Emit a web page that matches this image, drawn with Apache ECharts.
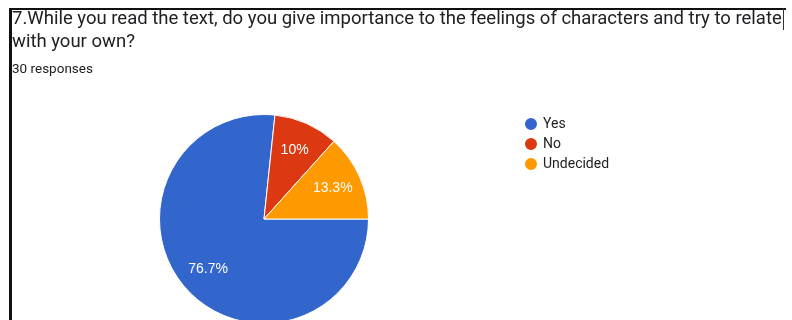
<!DOCTYPE html>
<html>
<head>
<meta charset="utf-8">
<script src="https://cdn.jsdelivr.net/npm/echarts@6/dist/echarts.min.js"></script>
<style>
  html, body { margin: 0; padding: 0; background: #fff; }
  #chart { width: 792px; height: 320px; }
</style>
</head>
<body>
<div id="chart"></div>
<script>
// Survey question 7: answers and their counts (30 responses)
const questionLines = [
  '7.While you read the text, do you give importance to the feelings of characters and try to relate',
  'with your own?'
];
const responseNote = '30 responses';
const answers = ['Yes', 'No', 'Undecided'];
const counts = [23, 3, 4];
const sliceColors = ['#3366CC', '#DC3912', '#FF9900'];

const pieData = answers.map((name, i) => ({
  name: name,
  value: counts[i],
  itemStyle: { color: sliceColors[i] }
}));

const center = [264, 219];
const outer = 104.5;

const chart = echarts.init(document.getElementById('chart'), null, { renderer: 'canvas' });

chart.setOption({
  animation: false,
  backgroundColor: '#ffffff',
  title: [
    {
      text: questionLines.join('\n'),
      left: 12,
      top: 8,
      padding: 0,
      textStyle: {
        fontFamily: 'Roboto',
        fontSize: 18.5,
        fontWeight: 'normal',
        color: '#202124',
        lineHeight: 23
      }
    },
    {
      text: responseNote,
      left: 12,
      top: 63,
      padding: 0,
      textStyle: {
        fontFamily: 'Roboto',
        fontSize: 13.5,
        fontWeight: 'normal',
        color: '#202124'
      }
    }
  ],
  legend: {
    orient: 'vertical',
    left: 523,
    top: 116,
    padding: 0,
    data: answers,
    icon: 'circle',
    itemWidth: 14,
    itemHeight: 14,
    itemGap: 4,
    textStyle: {
      fontFamily: 'Roboto',
      fontSize: 14,
      color: '#222222'
    }
  },
  series: [
    {
      type: 'pie',
      center: center,
      radius: [0, outer],
      startAngle: 0,
      clockwise: true,
      data: pieData,
      label: { show: false },
      labelLine: { show: false },
      itemStyle: { borderColor: '#ffffff', borderWidth: 1 },
      emphasis: { disabled: true }
    },
    {
      // transparent ring that only carries the percentage labels
      type: 'pie',
      center: center,
      radius: [40, outer],
      startAngle: 0,
      clockwise: true,
      silent: true,
      data: answers.map((name, i) => ({ name: name, value: counts[i], itemStyle: { color: 'rgba(0,0,0,0)' } })),
      itemStyle: { borderWidth: 0 },
      label: {
        show: true,
        position: 'inside',
        fontFamily: 'Arial',
        fontSize: 14,
        color: '#ffffff',
        formatter: p => (Math.round(p.percent * 10) / 10) + '%'
      },
      labelLine: { show: false },
      emphasis: { disabled: true },
      tooltip: { show: false }
    }
  ],
  graphic: [
    { type: 'rect', shape: { x: 9, y: 8, width: 777, height: 2 }, style: { fill: '#111' } },
    { type: 'rect', shape: { x: 9, y: 8, width: 3, height: 312 }, style: { fill: '#111' } },
    { type: 'rect', shape: { x: 783, y: 8, width: 1, height: 22 }, style: { fill: '#333' } }
  ]
});
</script>
</body>
</html>
